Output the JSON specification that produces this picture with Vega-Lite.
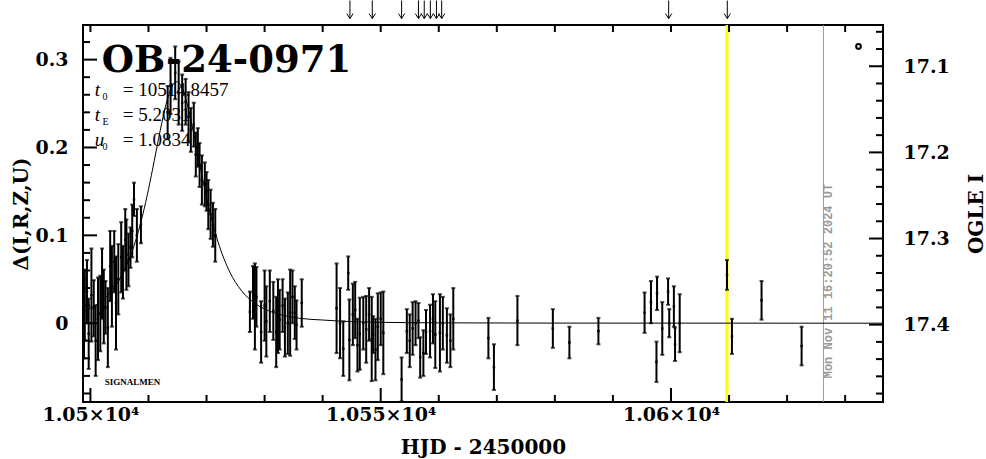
{
  "width": 800,
  "height": 377,
  "autosize": "none",
  "padding": {"left": 83, "top": 25, "right": 103, "bottom": 57},
  "background": "white",
  "config": {"view": {"stroke": "black", "strokeWidth": 2}, "font": "DejaVu Serif"},
  "datasets": {
    "obs": [
      {"t": 10498.9, "d": 0.005, "e": 0.045},
      {"t": 10499.03, "d": 0.021, "e": 0.040},
      {"t": 10499.4, "d": 0.036, "e": 0.036},
      {"t": 10499.7, "d": -0.012, "e": 0.040},
      {"t": 10500.17, "d": 0.032, "e": 0.053},
      {"t": 10500.57, "d": 0.017, "e": 0.032},
      {"t": 10500.9, "d": -0.02, "e": 0.040},
      {"t": 10501.3, "d": 0.005, "e": 0.047},
      {"t": 10501.7, "d": 0.011, "e": 0.043},
      {"t": 10502.0, "d": 0.045, "e": 0.040},
      {"t": 10502.3, "d": 0.019, "e": 0.042},
      {"t": 10502.6, "d": 0.018, "e": 0.030},
      {"t": 10503.0, "d": -0.005, "e": 0.045},
      {"t": 10503.4, "d": 0.065, "e": 0.040},
      {"t": 10503.7, "d": 0.042, "e": 0.046},
      {"t": 10504.1, "d": 0.07, "e": 0.035},
      {"t": 10504.4, "d": 0.023, "e": 0.053},
      {"t": 10504.8, "d": 0.05, "e": 0.040},
      {"t": 10505.3, "d": 0.075, "e": 0.040},
      {"t": 10505.6, "d": 0.058, "e": 0.030},
      {"t": 10506.0, "d": 0.095, "e": 0.035},
      {"t": 10506.2, "d": 0.078, "e": 0.040},
      {"t": 10506.55, "d": 0.072, "e": 0.030},
      {"t": 10506.9, "d": 0.086, "e": 0.023},
      {"t": 10507.2, "d": 0.105, "e": 0.030},
      {"t": 10507.5, "d": 0.141, "e": 0.019},
      {"t": 10508.0, "d": 0.1, "e": 0.030},
      {"t": 10508.7, "d": 0.112, "e": 0.021},
      {"t": 10513.3, "d": 0.24, "e": 0.030},
      {"t": 10513.8, "d": 0.27, "e": 0.032},
      {"t": 10514.6, "d": 0.285, "e": 0.030},
      {"t": 10515.2, "d": 0.262, "e": 0.036},
      {"t": 10515.8, "d": 0.251, "e": 0.032},
      {"t": 10516.4, "d": 0.252, "e": 0.026},
      {"t": 10516.9, "d": 0.235, "e": 0.028},
      {"t": 10517.3, "d": 0.22, "e": 0.025},
      {"t": 10517.8, "d": 0.226, "e": 0.025},
      {"t": 10518.15, "d": 0.192, "e": 0.025},
      {"t": 10518.5, "d": 0.2, "e": 0.022},
      {"t": 10518.8, "d": 0.18, "e": 0.025},
      {"t": 10519.2, "d": 0.163, "e": 0.028},
      {"t": 10519.7, "d": 0.158, "e": 0.025},
      {"t": 10520.0, "d": 0.15, "e": 0.022},
      {"t": 10520.3, "d": 0.135, "e": 0.028},
      {"t": 10520.7, "d": 0.124, "e": 0.028},
      {"t": 10521.1, "d": 0.112, "e": 0.025},
      {"t": 10521.5, "d": 0.10, "e": 0.030},
      {"t": 10527.47, "d": 0.013, "e": 0.023},
      {"t": 10528.0, "d": 0.035, "e": 0.030},
      {"t": 10528.33, "d": 0.019, "e": 0.049},
      {"t": 10528.6, "d": 0.03, "e": 0.034},
      {"t": 10529.4, "d": -0.01, "e": 0.035},
      {"t": 10530.0, "d": 0.02, "e": 0.040},
      {"t": 10530.3, "d": 0.002, "e": 0.040},
      {"t": 10530.9, "d": 0.025, "e": 0.035},
      {"t": 10531.5, "d": 0.014, "e": 0.033},
      {"t": 10532.0, "d": -0.01, "e": 0.040},
      {"t": 10532.3, "d": 0.008, "e": 0.042},
      {"t": 10532.6, "d": 0.004, "e": 0.034},
      {"t": 10533.1, "d": 0.02, "e": 0.030},
      {"t": 10533.5, "d": -0.005, "e": 0.033},
      {"t": 10534.0, "d": 0.0, "e": 0.035},
      {"t": 10534.4, "d": 0.012, "e": 0.049},
      {"t": 10534.8, "d": 0.03, "e": 0.030},
      {"t": 10535.2, "d": 0.012, "e": 0.030},
      {"t": 10535.5, "d": -0.002, "e": 0.028},
      {"t": 10536.4, "d": 0.023, "e": 0.027},
      {"t": 10542.4, "d": 0.017, "e": 0.051},
      {"t": 10543.0, "d": 0.0, "e": 0.040},
      {"t": 10543.55, "d": -0.029, "e": 0.031},
      {"t": 10544.4, "d": 0.057, "e": 0.019},
      {"t": 10544.6, "d": -0.019, "e": 0.046},
      {"t": 10545.2, "d": 0.01, "e": 0.035},
      {"t": 10545.6, "d": 0.015, "e": 0.032},
      {"t": 10546.0, "d": -0.025, "e": 0.030},
      {"t": 10546.4, "d": -0.012, "e": 0.041},
      {"t": 10547.0, "d": 0.0, "e": 0.030},
      {"t": 10547.5, "d": -0.007, "e": 0.038},
      {"t": 10548.0, "d": 0.01, "e": 0.030},
      {"t": 10548.45, "d": -0.018, "e": 0.048},
      {"t": 10548.7, "d": -0.013, "e": 0.021},
      {"t": 10549.1, "d": -0.03, "e": 0.035},
      {"t": 10549.5, "d": -0.004, "e": 0.038},
      {"t": 10550.0, "d": 0.005, "e": 0.030},
      {"t": 10550.45, "d": -0.011, "e": 0.047},
      {"t": 10553.6, "d": -0.064, "e": 0.025},
      {"t": 10554.5, "d": -0.009, "e": 0.025},
      {"t": 10555.0, "d": -0.02, "e": 0.030},
      {"t": 10555.5, "d": -0.006, "e": 0.030},
      {"t": 10556.0, "d": 0.0, "e": 0.025},
      {"t": 10556.5, "d": 0.003, "e": 0.020},
      {"t": 10556.8, "d": -0.039, "e": 0.023},
      {"t": 10557.35, "d": -0.034, "e": 0.026},
      {"t": 10557.8, "d": -0.01, "e": 0.025},
      {"t": 10558.5, "d": -0.009, "e": 0.030},
      {"t": 10559.0, "d": 0.005, "e": 0.028},
      {"t": 10559.4, "d": -0.013, "e": 0.038},
      {"t": 10560.2, "d": -0.011, "e": 0.044},
      {"t": 10560.7, "d": 0.0, "e": 0.030},
      {"t": 10561.4, "d": -0.014, "e": 0.031},
      {"t": 10562.0, "d": -0.02, "e": 0.030},
      {"t": 10562.5, "d": 0.005, "e": 0.035},
      {"t": 10568.55, "d": -0.017, "e": 0.023},
      {"t": 10569.5, "d": -0.050, "e": 0.026},
      {"t": 10573.55, "d": 0.003, "e": 0.028},
      {"t": 10579.65, "d": -0.006, "e": 0.022},
      {"t": 10582.5, "d": -0.022, "e": 0.018},
      {"t": 10587.5, "d": -0.009, "e": 0.015},
      {"t": 10595.45, "d": 0.012, "e": 0.023},
      {"t": 10596.55, "d": 0.024, "e": 0.024},
      {"t": 10597.5, "d": -0.044, "e": 0.023},
      {"t": 10597.6, "d": 0.034, "e": 0.019},
      {"t": 10598.5, "d": -0.006, "e": 0.030},
      {"t": 10599.5, "d": 0.036, "e": 0.015},
      {"t": 10599.7, "d": 0.0, "e": 0.016},
      {"t": 10600.5, "d": 0.019, "e": 0.023},
      {"t": 10600.7, "d": -0.024, "e": 0.019},
      {"t": 10601.5, "d": 0.0, "e": 0.033},
      {"t": 10609.65, "d": 0.055, "e": 0.017},
      {"t": 10610.5, "d": -0.015, "e": 0.020},
      {"t": 10615.6, "d": 0.026, "e": 0.022},
      {"t": 10622.5, "d": -0.026, "e": 0.022}
    ],
    "model": [
      {"t": 10498.7, "d": 0.0126},
      {"t": 10500, "d": 0.0173},
      {"t": 10502, "d": 0.0258},
      {"t": 10504, "d": 0.0397},
      {"t": 10506, "d": 0.0624},
      {"t": 10507, "d": 0.0784},
      {"t": 10508, "d": 0.0986},
      {"t": 10509, "d": 0.1232},
      {"t": 10510, "d": 0.1524},
      {"t": 10511, "d": 0.1851},
      {"t": 10511.5, "d": 0.2020},
      {"t": 10512, "d": 0.2187},
      {"t": 10513, "d": 0.2485},
      {"t": 10513.5, "d": 0.2603},
      {"t": 10514, "d": 0.2689},
      {"t": 10514.85, "d": 0.2748},
      {"t": 10515.5, "d": 0.2714},
      {"t": 10516, "d": 0.2642},
      {"t": 10517, "d": 0.2403},
      {"t": 10518, "d": 0.2088},
      {"t": 10518.5, "d": 0.1918},
      {"t": 10519, "d": 0.1750},
      {"t": 10520, "d": 0.1432},
      {"t": 10521, "d": 0.1153},
      {"t": 10522, "d": 0.0921},
      {"t": 10524, "d": 0.0583},
      {"t": 10526, "d": 0.0372},
      {"t": 10528, "d": 0.0242},
      {"t": 10530, "d": 0.0162},
      {"t": 10533, "d": 0.0093},
      {"t": 10536, "d": 0.0056},
      {"t": 10540, "d": 0.0036},
      {"t": 10545, "d": 0.0018},
      {"t": 10550, "d": 0.0010},
      {"t": 10560, "d": 0.0004},
      {"t": 10580, "d": 0.0001},
      {"t": 10636.5, "d": 0.0}
    ],
    "arrows": [
      {"t": 10544.7}, {"t": 10548.55}, {"t": 10553.6}, {"t": 10556.5}, {"t": 10557.5},
      {"t": 10558.55}, {"t": 10559.6}, {"t": 10560.5}, {"t": 10599.6}, {"t": 10609.7}
    ],
    "xmajor": [{"v": 10500}, {"v": 10550}, {"v": 10600}],
    "xminor": [{"v": 10510}, {"v": 10520}, {"v": 10530}, {"v": 10540}, {"v": 10560}, {"v": 10570}, {"v": 10580}, {"v": 10590}, {"v": 10610}, {"v": 10620}, {"v": 10630}],
    "xall": [{"v": 10500}, {"v": 10510}, {"v": 10520}, {"v": 10530}, {"v": 10540}, {"v": 10550}, {"v": 10560}, {"v": 10570}, {"v": 10580}, {"v": 10590}, {"v": 10600}, {"v": 10610}, {"v": 10620}, {"v": 10630}],
    "ymajor": [{"v": 0}, {"v": 0.1}, {"v": 0.2}, {"v": 0.3}],
    "yminor": [{"v": -0.08}, {"v": -0.06}, {"v": -0.04}, {"v": -0.02}, {"v": 0.02}, {"v": 0.04}, {"v": 0.06}, {"v": 0.08}, {"v": 0.12}, {"v": 0.14}, {"v": 0.16}, {"v": 0.18}, {"v": 0.22}, {"v": 0.24}, {"v": 0.26}, {"v": 0.28}, {"v": 0.32}],
    "mmajor": [{"v": 17.1}, {"v": 17.2}, {"v": 17.3}, {"v": 17.4}],
    "mminor": [{"v": 17.06}, {"v": 17.08}, {"v": 17.12}, {"v": 17.14}, {"v": 17.16}, {"v": 17.18}, {"v": 17.22}, {"v": 17.24}, {"v": 17.26}, {"v": 17.28}, {"v": 17.32}, {"v": 17.34}, {"v": 17.36}, {"v": 17.38}, {"v": 17.42}, {"v": 17.44}, {"v": 17.46}, {"v": 17.48}]
  },
  "layer": [
    {
      "data": {"values": [{}]},
      "mark": {"type": "rule", "color": "#ffff00", "strokeWidth": 3},
      "encoding": {"x": {"datum": 10609.65, "type": "quantitative", "scale": {"domain": [10498.72, 10636.52], "nice": false, "zero": false}, "axis": null}}
    },
    {
      "data": {"values": [{}]},
      "mark": {"type": "rule", "color": "#9a9a9a", "strokeWidth": 1},
      "encoding": {"x": {"datum": 10626.26, "type": "quantitative", "scale": {"domain": [10498.72, 10636.52], "nice": false, "zero": false}, "axis": null}}
    },
    {
      "data": {"name": "model"},
      "mark": {"type": "line", "color": "black", "strokeWidth": 1, "interpolate": "monotone"},
      "encoding": {
        "x": {"field": "t", "type": "quantitative", "scale": {"domain": [10498.72, 10636.52], "nice": false, "zero": false}, "axis": null},
        "y": {"field": "d", "type": "quantitative", "scale": {"domain": [-0.0897, 0.3394], "nice": false, "zero": false}, "axis": null}
      }
    },
    {
      "data": {"name": "obs"},
      "mark": {"type": "errorbar", "color": "black", "thickness": 2, "ticks": {"size": 4, "color": "black"}},
      "encoding": {
        "x": {"field": "t", "type": "quantitative", "scale": {"domain": [10498.72, 10636.52], "nice": false, "zero": false}, "axis": null},
        "y": {"field": "d", "type": "quantitative", "scale": {"domain": [-0.0897, 0.3394], "nice": false, "zero": false}, "axis": null},
        "yError": {"field": "e"}
      }
    },
    {
      "data": {"name": "obs"},
      "mark": {"type": "point", "shape": "square", "filled": true, "size": 6, "color": "black", "opacity": 1},
      "encoding": {
        "x": {"field": "t", "type": "quantitative", "scale": {"domain": [10498.72, 10636.52], "nice": false, "zero": false},
          "axis": {"orient": "bottom", "values": [10500, 10550, 10600],
            "labelExpr": "format(datum.value / 10000, '.3~f') + '×10⁴'",
            "labelFlush": false, "labelOverlap": false, "labelFont": "DejaVu Serif", "labelFontWeight": "bold", "labelFontSize": 19, "labelColor": "black",
            "labelPadding": 3, "ticks": false, "tickSize": 0, "domain": false, "grid": false,
            "title": "HJD - 2450000", "titleFont": "DejaVu Serif", "titleFontWeight": "bold", "titleFontSize": 20, "titleColor": "black",
            "titleX": 400, "titleY": 45, "titleBaseline": "middle", "titleAlign": "center"}},
        "y": {"field": "d", "type": "quantitative", "scale": {"domain": [-0.0897, 0.3394], "nice": false, "zero": false},
          "axis": {"orient": "left", "values": [0, 0.1, 0.2, 0.3],
            "labelExpr": "datum.value == 0 ? '0' : format(datum.value, '.1f')",
            "labelOverlap": false, "labelFlush": false, "labelFont": "DejaVu Serif", "labelFontWeight": "bold", "labelFontSize": 19, "labelColor": "black",
            "labelPadding": 15, "ticks": false, "tickSize": 0, "domain": false, "grid": false,
            "title": "Δ(I,R,Z,U)", "titleFont": "DejaVu Serif", "titleFontWeight": "bold", "titleFontSize": 20, "titleColor": "black",
            "titleX": -62, "titleY": 188.5, "titleAngle": 270, "titleBaseline": "middle", "titleAlign": "center"}}
      }
    },
    {
      "data": {"values": [{}]},
      "mark": {"type": "point", "opacity": 0},
      "encoding": {
        "y": {"datum": 17.3, "type": "quantitative", "scale": {"domain": [17.0521, 17.4898], "reverse": true, "nice": false, "zero": false},
          "axis": {"orient": "right", "values": [17.1, 17.2, 17.3, 17.4],
            "labelExpr": "format(datum.value, '.1f')",
            "labelOverlap": false, "labelFlush": false, "labelFont": "DejaVu Serif", "labelFontWeight": "bold", "labelFontSize": 19, "labelColor": "black",
            "labelPadding": 20, "ticks": false, "tickSize": 0, "domain": false, "grid": false,
            "title": "OGLE I", "titleFont": "DejaVu Serif", "titleFontWeight": "bold", "titleFontSize": 20, "titleColor": "black",
            "titleX": 93, "titleY": 188.5, "titleAngle": 270, "titleBaseline": "middle", "titleAlign": "center"}}
      }
    },
    {
      "data": {"name": "xmajor"},
      "mark": {"type": "tick", "color": "black", "orient": "vertical", "size": 14, "thickness": 2, "yOffset": -7, "opacity": 1},
      "encoding": {
        "x": {"field": "v", "type": "quantitative", "scale": {"domain": [10498.72, 10636.52], "nice": false, "zero": false}, "axis": null},
        "y": {"datum": -0.0897, "type": "quantitative", "scale": {"domain": [-0.0897, 0.3394], "nice": false, "zero": false}, "axis": null}
      }
    },
    {
      "data": {"name": "xminor"},
      "mark": {"type": "tick", "color": "black", "orient": "vertical", "size": 7, "thickness": 2, "yOffset": -3.5, "opacity": 1},
      "encoding": {
        "x": {"field": "v", "type": "quantitative", "scale": {"domain": [10498.72, 10636.52], "nice": false, "zero": false}, "axis": null},
        "y": {"datum": -0.0897, "type": "quantitative", "scale": {"domain": [-0.0897, 0.3394], "nice": false, "zero": false}, "axis": null}
      }
    },
    {
      "data": {"name": "xall"},
      "mark": {"type": "tick", "color": "black", "orient": "vertical", "size": 7, "thickness": 2, "yOffset": 3.5, "opacity": 1},
      "encoding": {
        "x": {"field": "v", "type": "quantitative", "scale": {"domain": [10498.72, 10636.52], "nice": false, "zero": false}, "axis": null},
        "y": {"datum": 0.3394, "type": "quantitative", "scale": {"domain": [-0.0897, 0.3394], "nice": false, "zero": false}, "axis": null}
      }
    },
    {
      "data": {"name": "ymajor"},
      "mark": {"type": "tick", "color": "black", "orient": "horizontal", "size": 14, "thickness": 2, "xOffset": 7, "opacity": 1},
      "encoding": {
        "x": {"datum": 10498.72, "type": "quantitative", "scale": {"domain": [10498.72, 10636.52], "nice": false, "zero": false}, "axis": null},
        "y": {"field": "v", "type": "quantitative", "scale": {"domain": [-0.0897, 0.3394], "nice": false, "zero": false}, "axis": null}
      }
    },
    {
      "data": {"name": "yminor"},
      "mark": {"type": "tick", "color": "black", "orient": "horizontal", "size": 7, "thickness": 2, "xOffset": 3.5, "opacity": 1},
      "encoding": {
        "x": {"datum": 10498.72, "type": "quantitative", "scale": {"domain": [10498.72, 10636.52], "nice": false, "zero": false}, "axis": null},
        "y": {"field": "v", "type": "quantitative", "scale": {"domain": [-0.0897, 0.3394], "nice": false, "zero": false}, "axis": null}
      }
    },
    {
      "data": {"name": "mmajor"},
      "mark": {"type": "tick", "color": "black", "orient": "horizontal", "size": 14, "thickness": 2, "xOffset": -7, "opacity": 1},
      "encoding": {
        "x": {"datum": 10636.52, "type": "quantitative", "scale": {"domain": [10498.72, 10636.52], "nice": false, "zero": false}, "axis": null},
        "y": {"field": "v", "type": "quantitative", "scale": {"domain": [17.0521, 17.4898], "reverse": true, "nice": false, "zero": false}, "axis": null}
      }
    },
    {
      "data": {"name": "mminor"},
      "mark": {"type": "tick", "color": "black", "orient": "horizontal", "size": 7, "thickness": 2, "xOffset": -3.5, "opacity": 1},
      "encoding": {
        "x": {"datum": 10636.52, "type": "quantitative", "scale": {"domain": [10498.72, 10636.52], "nice": false, "zero": false}, "axis": null},
        "y": {"field": "v", "type": "quantitative", "scale": {"domain": [17.0521, 17.4898], "reverse": true, "nice": false, "zero": false}, "axis": null}
      }
    },
    {
      "data": {"name": "arrows"},
      "mark": {"type": "point", "shape": "M0,-1L0,1M-0.35,0.45L0,1L0.35,0.45", "size": 324, "filled": false, "stroke": "black", "strokeWidth": 1, "opacity": 1},
      "encoding": {
        "x": {"field": "t", "type": "quantitative", "scale": {"domain": [10498.72, 10636.52], "nice": false, "zero": false}, "axis": null},
        "y": {"datum": 0.357, "type": "quantitative", "scale": {"domain": [-0.0897, 0.3394], "nice": false, "zero": false}, "axis": null}
      }
    },
    {
      "data": {"values": [{}]},
      "mark": {"type": "point", "shape": "circle", "filled": false, "stroke": "black", "strokeWidth": 2, "size": 22, "opacity": 1},
      "encoding": {
        "x": {"datum": 10632.3, "type": "quantitative", "scale": {"domain": [10498.72, 10636.52], "nice": false, "zero": false}, "axis": null},
        "y": {"datum": 0.315, "type": "quantitative", "scale": {"domain": [-0.0897, 0.3394], "nice": false, "zero": false}, "axis": null}
      }
    },
    {
      "data": {"values": [{}]},
      "mark": {"type": "text", "text": "OB-24-0971", "font": "DejaVu Serif", "fontWeight": "bold", "fontSize": 37, "align": "left", "baseline": "alphabetic", "color": "black"},
      "encoding": {
        "x": {"datum": 10501.95, "type": "quantitative", "scale": {"domain": [10498.72, 10636.52], "nice": false, "zero": false}, "axis": null},
        "y": {"datum": 0.2864, "type": "quantitative", "scale": {"domain": [-0.0897, 0.3394], "nice": false, "zero": false}, "axis": null}
      }
    },
    {
      "data": {"values": [{}]},
      "mark": {"type": "text", "text": ["t", "t", "u"], "font": "Liberation Serif", "fontStyle": "italic", "fontSize": 19, "lineHeight": 25, "align": "left", "baseline": "alphabetic", "color": "black"},
      "encoding": {
        "x": {"datum": 10500.74, "type": "quantitative", "scale": {"domain": [10498.72, 10636.52], "nice": false, "zero": false}, "axis": null},
        "y": {"datum": 0.2590, "type": "quantitative", "scale": {"domain": [-0.0897, 0.3394], "nice": false, "zero": false}, "axis": null}
      }
    },
    {
      "data": {"values": [{}]},
      "mark": {"type": "text", "text": ["0", "E", "0"], "font": "Liberation Serif", "fontSize": 10, "lineHeight": 25, "align": "left", "baseline": "alphabetic", "color": "black"},
      "encoding": {
        "x": {"datum": 10502.1, "type": "quantitative", "scale": {"domain": [10498.72, 10636.52], "nice": false, "zero": false}, "axis": null},
        "y": {"datum": 0.2545, "type": "quantitative", "scale": {"domain": [-0.0897, 0.3394], "nice": false, "zero": false}, "axis": null}
      }
    },
    {
      "data": {"values": [{}]},
      "mark": {"type": "text", "text": ["= 10514.8457", "= 5.2031", "= 1.0834"], "font": "Liberation Serif", "fontSize": 19, "lineHeight": 25, "align": "left", "baseline": "alphabetic", "color": "black"},
      "encoding": {
        "x": {"datum": 10505.57, "type": "quantitative", "scale": {"domain": [10498.72, 10636.52], "nice": false, "zero": false}, "axis": null},
        "y": {"datum": 0.2590, "type": "quantitative", "scale": {"domain": [-0.0897, 0.3394], "nice": false, "zero": false}, "axis": null}
      }
    },
    {
      "data": {"values": [{}]},
      "mark": {"type": "text", "text": "SIGNALMEN", "font": "Liberation Serif", "fontWeight": "bold", "fontSize": 9, "align": "left", "baseline": "alphabetic", "color": "black"},
      "encoding": {
        "x": {"datum": 10502.47, "type": "quantitative", "scale": {"domain": [10498.72, 10636.52], "nice": false, "zero": false}, "axis": null},
        "y": {"datum": -0.070, "type": "quantitative", "scale": {"domain": [-0.0897, 0.3394], "nice": false, "zero": false}, "axis": null}
      }
    },
    {
      "data": {"values": [{}]},
      "mark": {"type": "text", "text": "Mon Nov 11 16:20:52 2024 UT", "font": "Liberation Mono", "fontWeight": "bold", "fontSize": 12, "angle": 270, "align": "left", "baseline": "top", "dx": 2, "color": "#9a9a9a"},
      "encoding": {
        "x": {"datum": 10626.26, "type": "quantitative", "scale": {"domain": [10498.72, 10636.52], "nice": false, "zero": false}, "axis": null},
        "y": {"datum": -0.065, "type": "quantitative", "scale": {"domain": [-0.0897, 0.3394], "nice": false, "zero": false}, "axis": null}
      }
    }
  ],
  "resolve": {"scale": {"y": "independent"}, "axis": {"x": "independent", "y": "independent"}}
}
